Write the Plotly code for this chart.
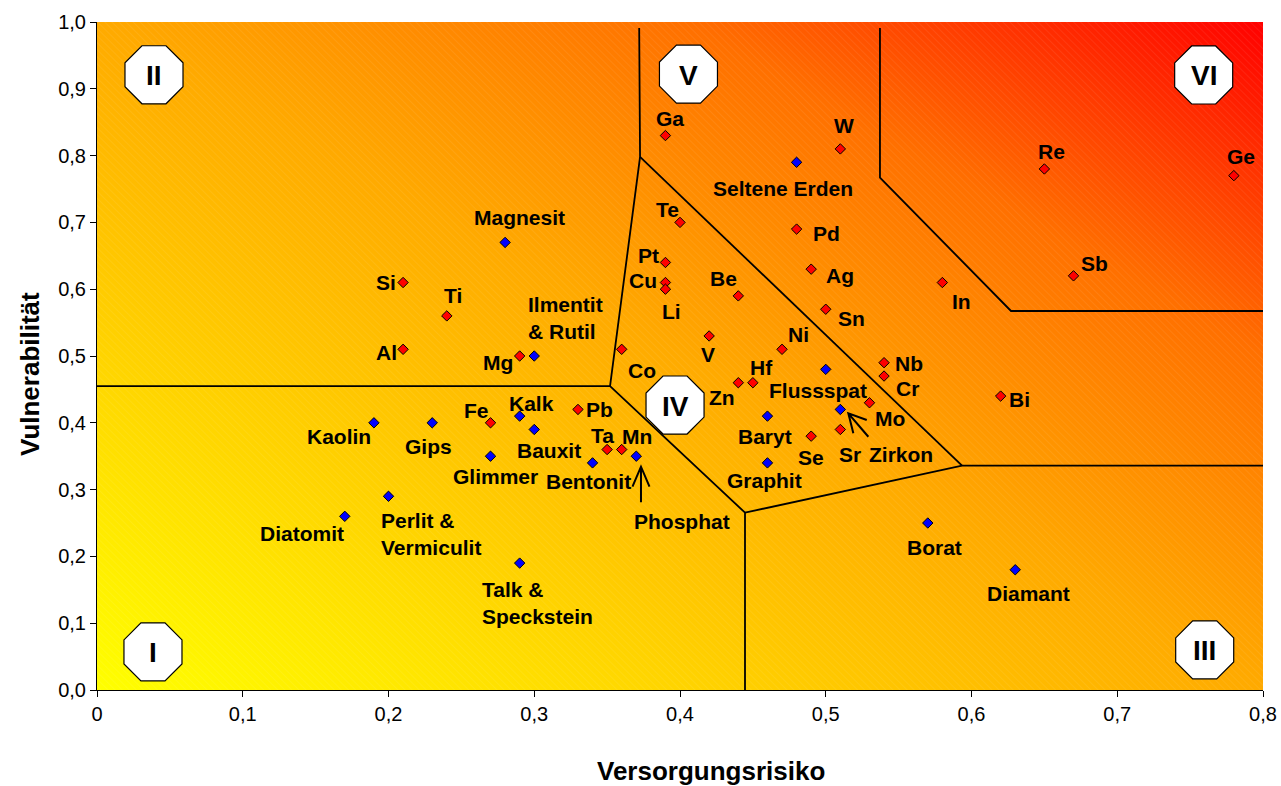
import base64
import numpy as np
import plotly.graph_objects as go

# ---------------- data ----------------
metal_names = ["Ga", "W", "Te", "Pt", "Cu", "Li", "Be", "Pd", "Ag", "Sn", "In", "Re", "Sb", "Ge",
               "Si", "Ti", "Al", "Mg", "Co", "V", "Ni", "Hf", "Zn", "Nb", "Cr", "Mo", "Sr", "Se",
               "Bi", "Fe", "Pb", "Ta", "Mn"]
metal_x = [0.39, 0.51, 0.40, 0.39, 0.39, 0.39, 0.44, 0.48, 0.49, 0.50, 0.58, 0.65, 0.67, 0.78,
           0.21, 0.24, 0.21, 0.29, 0.36, 0.42, 0.47, 0.45, 0.44, 0.54, 0.54, 0.53, 0.51, 0.49,
           0.62, 0.27, 0.33, 0.35, 0.36]
metal_y = [0.83, 0.81, 0.70, 0.64, 0.61, 0.60, 0.59, 0.69, 0.63, 0.57, 0.61, 0.78, 0.62, 0.77,
           0.61, 0.56, 0.51, 0.50, 0.51, 0.53, 0.51, 0.46, 0.46, 0.49, 0.47, 0.43, 0.39, 0.38,
           0.44, 0.40, 0.42, 0.36, 0.36]

mineral_names = ["Magnesit", "Seltene Erden", "Ilmentit<br>& Rutil", "Kaolin", "Gips", "Kalk",
                 "Bauxit", "Glimmer", "Bentonit", "Phosphat", "Perlit &<br>Vermiculit",
                 "Diatomit", "Talk &<br>Speckstein", "Flussspat", "Baryt", "Graphit", "Zirkon",
                 "Borat", "Diamant"]
mineral_x = [0.28, 0.48, 0.30, 0.19, 0.23, 0.29, 0.30, 0.27, 0.34, 0.37, 0.20, 0.17, 0.29,
             0.50, 0.46, 0.46, 0.51, 0.57, 0.63]
mineral_y = [0.67, 0.79, 0.50, 0.40, 0.40, 0.41, 0.39, 0.35, 0.34, 0.35, 0.29, 0.26, 0.19,
             0.48, 0.41, 0.34, 0.42, 0.25, 0.18]

x_tickvals = [0, 0.1, 0.2, 0.3, 0.4, 0.5, 0.6, 0.7, 0.8]
x_ticktext = ["0", "0,1", "0,2", "0,3", "0,4", "0,5", "0,6", "0,7", "0,8"]
y_tickvals = [0, 0.1, 0.2, 0.3, 0.4, 0.5, 0.6, 0.7, 0.8, 0.9, 1.0]
y_ticktext = ["0,0", "0,1", "0,2", "0,3", "0,4", "0,5", "0,6", "0,7", "0,8", "0,9", "1,0"]

x_title = "Versorgungsrisiko"
y_title = "Vulnerabilität"

# region boundary polylines (data coordinates)
boundaries = [
    [(0.0, 0.455), (0.352, 0.455), (0.3726, 0.798), (0.372, 0.991)],
    [(0.352, 0.455), (0.4446, 0.2655), (0.4446, 0.0)],
    [(0.4446, 0.2655), (0.5935, 0.336), (0.8, 0.336)],
    [(0.3726, 0.798), (0.5935, 0.336)],
    [(0.5372, 0.991), (0.5372, 0.767), (0.6271, 0.5674), (0.8, 0.5674)],
]

# region markers (roman numerals) and their centres
region_labels = ["I", "II", "III", "IV", "V", "VI"]
region_x = [0.0384, 0.0391, 0.760, 0.3966, 0.4058, 0.7593]
region_y = [0.057, 0.921, 0.060, 0.4266, 0.922, 0.9207]

# ---------------- styling: label offsets in pixels (dx right, dy up) ----------------
label_offsets = {
    "Ga": (5, 17), "W": (4, 23), "Te": (-13, 13), "Pt": (-17, 7), "Cu": (-22, 2),
    "Li": (6, -22), "Be": (-15, 17), "Pd": (30, -4), "Ag": (29, -6), "Sn": (26, -9),
    "In": (19, -19), "Re": (7, 17), "Sb": (21, 12), "Ge": (7, 19), "Si": (-17, 0),
    "Ti": (6, 20), "Al": (-17, -3), "Mg": (-22, -6), "Co": (20, -21), "V": (-1, -19),
    "Ni": (16, 15), "Hf": (9, 15), "Zn": (-16, -15), "Nb": (25, -1), "Cr": (23, -12),
    "Mo": (21, -16), "Sr": (10, -25), "Se": (0, -21), "Bi": (19, -3), "Fe": (-14, 12),
    "Pb": (22, 0), "Ta": (-5, 14), "Mn": (15, 13),
    "Magnesit": (14, 25), "Seltene Erden": (-14, -26), "Ilmentit<br>& Rutil": (31, 38),
    "Kaolin": (-35, -14), "Gips": (-4, -24), "Kalk": (12, 13), "Bauxit": (15, -21),
    "Glimmer": (5, -20), "Bentonit": (-4, -19), "Phosphat": (46, -65),
    "Perlit &<br>Vermiculit": (42, -38), "Diatomit": (-43, -17),
    "Talk &<br>Speckstein": (18, -40), "Flussspat": (-8, -21), "Baryt": (-2, -20),
    "Graphit": (-3, -18), "Zirkon": (61, -45), "Borat": (7, -24), "Diamant": (13, -24),
}

FONT = "Arial, 'Liberation Sans', Helvetica, sans-serif"
W, H = 1281, 786
ML, MR, MT, MB = 97, 18, 22, 96
PW, PH = W - ML - MR, H - MT - MB

# ---------------- background gradient (SVG image) ----------------
svg = f'''<svg xmlns="http://www.w3.org/2000/svg" width="{PW}" height="{PH}" viewBox="0 0 {PW} {PH}" preserveAspectRatio="none">
<defs>
<linearGradient id="g" x1="0" y1="1" x2="1" y2="0">
<stop offset="0" stop-color="#FFFF00"/>
<stop offset="0.5" stop-color="#FFAA00"/>
<stop offset="0.75" stop-color="#FF7000"/>
<stop offset="1" stop-color="#FF0000"/>
</linearGradient>
<pattern id="p" width="5" height="5" patternUnits="userSpaceOnUse" patternTransform="rotate(-45)">
<line x1="0" y1="0" x2="0" y2="5" stroke="#ffffff" stroke-width="1" stroke-opacity="0.13"/>
</pattern>
</defs>
<rect width="{PW}" height="{PH}" fill="url(#g)"/>
<rect width="{PW}" height="{PH}" fill="url(#p)"/>
</svg>'''
svg_uri = "data:image/svg+xml;base64," + base64.b64encode(svg.encode("utf-8")).decode("ascii")

fig = go.Figure()

# boundary lines
bx, by = [], []
for seg in boundaries:
    for px_, py_ in seg:
        bx.append(px_)
        by.append(py_)
    bx.append(None)
    by.append(None)
fig.add_trace(go.Scatter(x=bx, y=by, mode="lines", line=dict(color="black", width=1.8),
                         hoverinfo="skip", showlegend=False))

# markers
fig.add_trace(go.Scatter(x=metal_x, y=metal_y, mode="markers", text=metal_names,
                         marker=dict(symbol="diamond", size=8, color="#FF0000",
                                     line=dict(color="black", width=1)),
                         showlegend=False))
fig.add_trace(go.Scatter(x=mineral_x, y=mineral_y, mode="markers", text=mineral_names,
                         marker=dict(symbol="diamond", size=8, color="#0000FF",
                                     line=dict(color="black", width=1)),
                         showlegend=False))

annotations = []
for names, xs, ys in ((metal_names, metal_x, metal_y), (mineral_names, mineral_x, mineral_y)):
    for n, xv, yv in zip(names, xs, ys):
        dx, dy = label_offsets.get(n, (0, 15))
        annotations.append(dict(x=xv, y=yv, xref="x", yref="y", text=f"<b>{n}</b>",
                                showarrow=False, xshift=dx, yshift=dy, align="left",
                                xanchor="center", yanchor="middle",
                                font=dict(family=FONT, size=21, color="black")))

shapes = []
# arrows (pixel paths relative to the marker they point at)
def arrow_path(tail, tip, h1, h2):
    return (f"M{tail[0]},{tail[1]} L{tip[0]},{tip[1]} "
            f"M{h1[0]},{h1[1]} L{tip[0]},{tip[1]} L{h2[0]},{h2[1]}")

arrow_specs = {
    "Phosphat": ((4.7, -46), (4.7, -10.5), (-3.8, -30.5), (13.2, -30.5)),
    "Zirkon": ((28, -27.3), (8, -3.9), (13, -23.9), (26.4, -10.6)),
}
for n, spec in arrow_specs.items():
    i = mineral_names.index(n)
    shapes.append(dict(type="path", xref="x", yref="y", xsizemode="pixel", ysizemode="pixel",
                       xanchor=mineral_x[i], yanchor=mineral_y[i], path=arrow_path(*spec),
                       line=dict(color="black", width=2)))

# octagons for regions
R = 31.4
ang = np.deg2rad(22.5 + 45 * np.arange(8))
oct_path = "M" + " L".join(f"{R*np.cos(a):.2f},{R*np.sin(a):.2f}" for a in ang) + " Z"
for lab, xv, yv in zip(region_labels, region_x, region_y):
    shapes.append(dict(type="path", xref="x", yref="y", xsizemode="pixel", ysizemode="pixel",
                       xanchor=xv, yanchor=yv, path=oct_path, fillcolor="white",
                       line=dict(color="black", width=1.2), layer="above"))
    annotations.append(dict(x=xv, y=yv, xref="x", yref="y", text=f"<b>{lab}</b>",
                            showarrow=False, xanchor="center", yanchor="middle", yshift=-1,
                            font=dict(family=FONT, size=28, color="black")))

# axis titles
annotations.append(dict(x=(710.5 - ML) / PW, y=(MT + PH - 771) / PH, xref="paper", yref="paper",
                        text=f"<b>{x_title}</b>", showarrow=False, xanchor="center",
                        yanchor="middle", font=dict(family=FONT, size=26, color="black")))
annotations.append(dict(x=(30 - ML) / PW, y=(MT + PH - 374) / PH, xref="paper", yref="paper",
                        text=f"<b>{y_title}</b>", showarrow=False, xanchor="center",
                        yanchor="middle", textangle=-90,
                        font=dict(family=FONT, size=26, color="black")))

fig.update_layout(
    width=W, height=H, autosize=False,
    margin=dict(l=ML, r=MR, t=MT, b=MB, pad=0, autoexpand=False),
    paper_bgcolor="white", plot_bgcolor="white",
    font=dict(family=FONT, color="black"),
    annotations=annotations, shapes=shapes,
    images=[dict(source=svg_uri, xref="x", yref="y", x=0, y=1, sizex=0.8, sizey=1,
                 xanchor="left", yanchor="top", sizing="stretch", layer="below")],
    hovermode=False,
)
fig.update_xaxes(range=[0, 0.8], tickvals=x_tickvals, ticktext=x_ticktext, automargin=False,
                 showgrid=False, zeroline=False, showline=True, linecolor="black", linewidth=1,
                 ticks="outside", ticklen=6, tickcolor="black",
                 tickfont=dict(family=FONT, size=20, color="black"))
fig.update_yaxes(range=[0, 1], tickvals=y_tickvals, ticktext=y_ticktext, automargin=False,
                 showgrid=False, zeroline=False, showline=True, linecolor="black", linewidth=1,
                 ticks="outside", ticklen=6, tickcolor="black",
                 tickfont=dict(family=FONT, size=20, color="black"))

fig.write_html("out.html", config={"displayModeBar": False},
               post_script="document.body.style.margin='0';")
